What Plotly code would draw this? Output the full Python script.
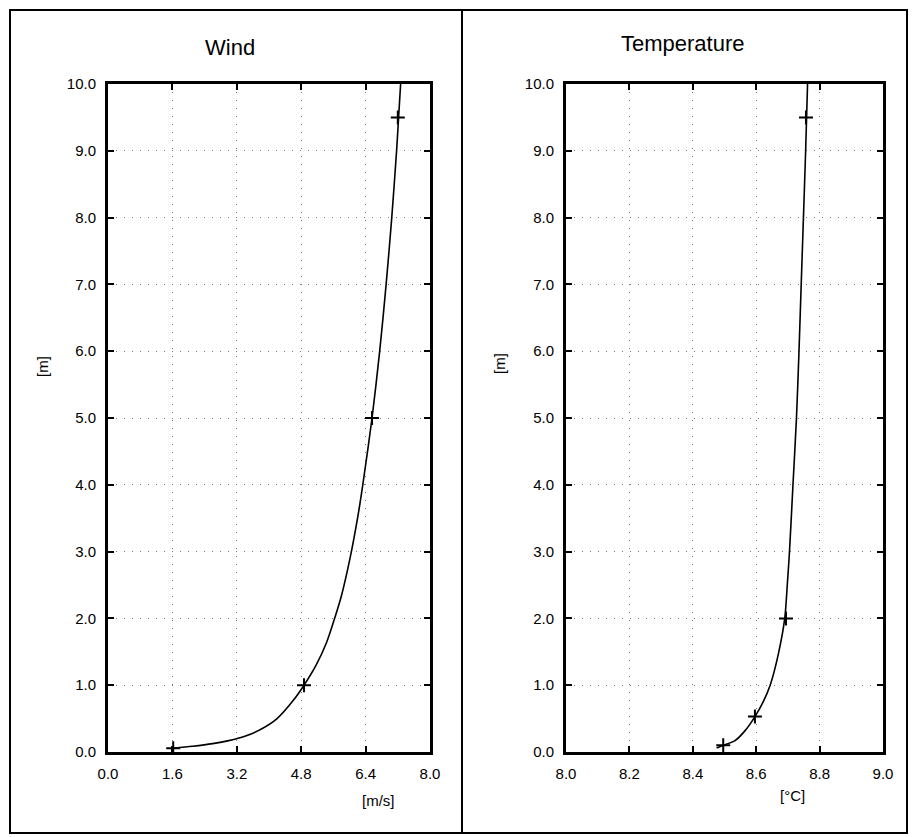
import plotly.graph_objects as go

# page body has an 8px margin, so the figure is shifted by OFF pixels
OFF = 8
W, H = 917 - OFF - 1, 837 - OFF - 1

# ---- Data ----
wind_curve_z = [0.055, 0.085, 0.125, 0.17, 0.235, 0.34, 0.5, 0.77, 1.0, 1.3, 1.64, 2.0, 2.34, 2.89, 3.5, 4.0, 5.0, 6.0, 7.0, 8.0, 9.0, 9.5, 10.0]
wind_curve_u = [1.62, 2.1, 2.6, 3.0, 3.4, 3.8, 4.2, 4.6, 4.87, 5.17, 5.43, 5.63, 5.8, 6.01, 6.2, 6.33, 6.56, 6.75, 6.91, 7.05, 7.17, 7.22, 7.27]
wind_pts_u = [1.62, 4.87, 6.56, 7.2]
wind_pts_z = [0.055, 1.0, 5.0, 9.5]

temp_curve_z = [0.06, 0.1, 0.17, 0.32, 0.53, 0.75, 1.0, 1.47, 2.0, 2.5, 3.0, 4.0, 5.0, 6.0, 7.0, 8.0, 9.0, 10.0]
temp_curve_t = [8.475, 8.496, 8.533, 8.565, 8.596, 8.622, 8.644, 8.67, 8.69, 8.698, 8.705, 8.716, 8.727, 8.735, 8.742, 8.749, 8.756, 8.762]
temp_pts_t = [8.496, 8.596, 8.694, 8.757]
temp_pts_z = [0.1, 0.53, 2.0, 9.5]

wind_xticks = [0.0, 1.6, 3.2, 4.8, 6.4, 8.0]
temp_xticks = [8.0, 8.2, 8.4, 8.6, 8.8, 9.0]
yticks = [0, 1, 2, 3, 4, 5, 6, 7, 8, 9, 10]

FONT = "Liberation Sans"

def px(x):
    return (x - OFF) / W

def py(y):
    return 1 - (y - OFF) / H

fig = go.Figure()
line = dict(color="black", width=1.6, shape="spline", smoothing=0.8)
mk = dict(symbol="cross-thin-open", size=10, line=dict(color="black", width=2), color="black")

fig.add_trace(go.Scatter(x=wind_curve_u, y=wind_curve_z, mode="lines", line=line,
                         xaxis="x", yaxis="y", showlegend=False))
fig.add_trace(go.Scatter(x=wind_pts_u, y=wind_pts_z, mode="markers", marker=mk,
                         xaxis="x", yaxis="y", showlegend=False))
fig.add_trace(go.Scatter(x=temp_curve_t, y=temp_curve_z, mode="lines", line=line,
                         xaxis="x2", yaxis="y2", showlegend=False))
fig.add_trace(go.Scatter(x=temp_pts_t, y=temp_pts_z, mode="markers", marker=mk,
                         xaxis="x2", yaxis="y2", showlegend=False))

common = dict(showline=True, linewidth=3, linecolor="black", mirror="ticks",
              ticks="inside", ticklen=6, tickwidth=1.5, tickcolor="black",
              showgrid=True, gridcolor="#777777", gridwidth=1, griddash="1px,7px",
              zeroline=False, automargin=False,
              tickfont=dict(family=FONT, size=15, color="black"))

ydom = [py(752), py(84)]
fig.update_layout(
    width=W, height=H, autosize=False,
    margin=dict(l=0, r=0, t=0, b=0, pad=0),
    paper_bgcolor="white", plot_bgcolor="white",
    xaxis=dict(domain=[px(108), px(430)], range=[0, 8], tickvals=wind_xticks,
               tickformat=".1f", anchor="y", ticklabelstandoff=6, **common),
    yaxis=dict(domain=ydom, range=[0, 10], tickvals=yticks, tickformat=".1f",
               anchor="x", ticklabelstandoff=6, **common),
    xaxis2=dict(domain=[px(566), px(883)], range=[8, 9], tickvals=temp_xticks,
                tickformat=".1f", anchor="y2", ticklabelstandoff=6, **common),
    yaxis2=dict(domain=ydom, range=[0, 10], tickvals=yticks, tickformat=".1f",
                anchor="x2", ticklabelstandoff=6, **common),
)

ann = []
def text(x, y, s, size=15, angle=0):
    ann.append(dict(x=px(x), y=py(y), xref="paper", yref="paper", text=s,
                    showarrow=False, textangle=angle,
                    font=dict(family=FONT, size=size, color="black"),
                    xanchor="center", yanchor="middle"))

text(230, 48, "Wind", size=22)
text(683, 44, "Temperature", size=22)
text(43, 367, "[m]", angle=-90)
text(499, 364, "[m]", angle=-90)
text(378, 800, "[m/s]")
text(792, 795, "[°C]")
fig.update_layout(annotations=ann)

shapes = [
    dict(type="rect", xref="paper", yref="paper", x0=px(10), x1=px(907), y0=py(833), y1=py(10),
         line=dict(color="black", width=2)),
    dict(type="line", xref="paper", yref="paper", x0=px(462), x1=px(462), y0=py(833), y1=py(10),
         line=dict(color="black", width=2)),
]
fig.update_layout(shapes=shapes)

fig.write_html("out.html")
